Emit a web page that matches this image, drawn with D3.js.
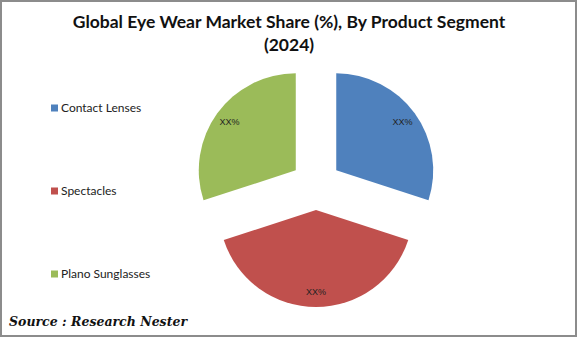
<!DOCTYPE html>
<html>
<head>
<meta charset="utf-8">
<script src="https://cdn.jsdelivr.net/npm/d3@7"></script>
<style>
  html, body { margin: 0; padding: 0; background: #fff; }
  svg { display: block; }
</style>
</head>
<body>
<svg id="chart" width="577" height="337"></svg>
<script>
// Product segments and their shares of the eyewear market
const segments = ["Contact Lenses", "Spectacles", "Plano Sunglasses"];
const shares = [30, 40, 30];
const valueLabels = ["XX%", "XX%", "XX%"];
const colors = ["#4F81BD", "#C0504D", "#9BBB59"];

const titleLines = ["Global Eye Wear Market Share (%), By Product Segment", "(2024)"];
const sourceText = "Source : Research Nester";

const W = 577, H = 337;
const svg = d3.select("#chart");

// outer frame
svg.append("rect")
  .attr("x", 1).attr("y", 1)
  .attr("width", W - 2).attr("height", H - 2)
  .attr("fill", "#fff")
  .attr("stroke", "#8c8c8c")
  .attr("stroke-width", 2);

// title
const title = svg.append("text")
  .attr("text-anchor", "middle")
  .attr("font-family", "Lato, 'Open Sans', sans-serif")
  .attr("font-weight", "bold")
  .attr("font-size", 17.5)
  .attr("fill", "#111");
titleLines.forEach((t, i) => {
  title.append("tspan")
    .attr("x", 289)
    .attr("y", 28 + i * 23)
    .text(t);
});

// exploded pie
const cx = 316, cy = 185;
const radius = 97, explode = 25;

const pie = d3.pie().sort(null).value(d => d.value);
const arcs = pie(segments.map((s, i) => ({ name: s, value: shares[i], label: valueLabels[i], color: colors[i] })));

const arc = d3.arc().innerRadius(0).outerRadius(radius);
const labelArc = d3.arc().innerRadius(82).outerRadius(82);

const pieG = svg.append("g").attr("transform", `translate(${cx},${cy})`);

const slice = pieG.selectAll("g.slice")
  .data(arcs)
  .join("g")
  .attr("class", "slice")
  .attr("transform", d => {
    const mid = (d.startAngle + d.endAngle) / 2;
    return `translate(${Math.sin(mid) * explode},${-Math.cos(mid) * explode})`;
  });

slice.append("path")
  .attr("d", arc)
  .attr("fill", d => d.data.color);

slice.append("text")
  .attr("transform", d => `translate(${labelArc.centroid(d)})`)
  .attr("text-anchor", "middle")
  .attr("dy", "0.35em")
  .attr("font-family", "'Liberation Sans', Arial, sans-serif")
  .attr("font-size", 9)
  .attr("fill", "#222")
  .text(d => d.data.label);

// legend
const legendY = d3.scalePoint().domain(segments).range([108, 274]);
const legend = svg.append("g")
  .selectAll("g")
  .data(segments)
  .join("g")
  .attr("transform", (d) => `translate(51,${legendY(d)})`);

legend.append("rect")
  .attr("x", 0).attr("y", -3.5)
  .attr("width", 7).attr("height", 7)
  .attr("fill", (d, i) => colors[i]);

legend.append("text")
  .attr("x", 10)
  .attr("dy", "0.35em")
  .attr("font-family", "Lato, 'Open Sans', sans-serif")
  .attr("font-size", 12)
  .attr("fill", "#222")
  .text(d => d);

// source note
svg.append("text")
  .attr("x", 9)
  .attr("y", 326)
  .attr("font-family", "'DejaVu Serif', Georgia, serif")
  .attr("font-weight", "bold")
  .attr("font-style", "italic")
  .attr("font-size", 13)
  .attr("textLength", 178)
  .attr("lengthAdjust", "spacingAndGlyphs")
  .attr("fill", "#111")
  .text(sourceText);
</script>
</body>
</html>
